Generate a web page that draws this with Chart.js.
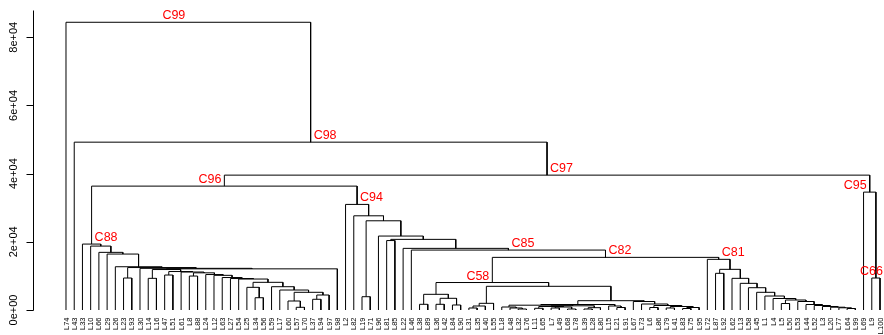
<!DOCTYPE html>
<html>
<head>
<meta charset="utf-8">
<script src="https://cdn.jsdelivr.net/npm/chart.js@4.4.1/dist/chart.umd.min.js"></script>
<style>
  html, body { margin: 0; padding: 0; background: #fff; }
  #wrap { width: 884px; height: 335px; }
</style>
</head>
<body>
<div id="wrap"><canvas id="tree" width="884" height="335"></canvas></div>
<script>
// leaf order along the bottom
const leafLabels = [
  "L74","L43","L33","L10","L66","L29","L26","L23","L93","L30","L14","L16","L47","L51","L61","L8","L88","L24","L12","L63",
  "L27","L54","L25","L34","L56","L59","L17","L60","L57","L70","L37","L94","L97","L98","L2","L82","L19","L71","L96","L81",
  "L85","L22","L46","L38","L89","L36","L42","L84","L90","L31","L35","L40","L55","L18","L48","L32","L76","L11","L65","L7",
  "L49","L68","L78","L39","L28","L80","L15","L21","L91","L67","L73","L6","L86","L79","L41","L83","L75","L95","L72","L87",
  "L92","L62","L13","L58","L45","L1","L4","L5","L50","L53","L44","L52","L3","L20","L77","L64","L99","L69","L9","L100"
]

// merge table: [node, left child, right child, height]
const merges = [
  ["C99","L74","C98",84400],
  ["C98","L43","C97",49230],
  ["C97","C96","C95",39560],
  ["C96","C88","C94",36340],
  ["C95","L69","C66",34580],
  ["C66","L9","L100",9380],
  ["C88","L33","n1",19340],
  ["n1","L10","n2",18750],
  ["n2","L66","n3",16910],
  ["n3","L29","n4",16410],
  ["n4","L26","n5",12690],
  ["n5","n6","n7",12450],
  ["n6","L23","L93",9380],
  ["n7","L30","n8",12220],
  ["n8","n9","L98",12070],
  ["n9","n10","n11",11870],
  ["n10","L14","L16",9290],
  ["n11","n12","n13",11280],
  ["n12","L47","L51",10260],
  ["n13","L61","n14",11140],
  ["n14","n15","n16",10900],
  ["n15","L8","L88",9960],
  ["n16","L24","n17",10400],
  ["n17","L12","n18",10170],
  ["n18","L63","n19",9520],
  ["n19","L27","n20",9230],
  ["n20","L54","n21",9080],
  ["n21","n22","n23",8120],
  ["n22","L25","n24",6650],
  ["n24","L34","L56",3600],
  ["n23","L59","n25",6830],
  ["n25","L17","n26",5860],
  ["n26","n27","n28",5190],
  ["n27","L60","n29",2640],
  ["n29","L57","L70",790],
  ["n28","n30","L97",4400],
  ["n30","L37","L94",3140],
  ["C94","L2","n31",30970],
  ["n31","L82","n32",27630],
  ["n32","n33","n34",26170],
  ["n33","L19","L71",3900],
  ["n34","L96","n35",21690],
  ["n35","n36","n37",20720],
  ["n36","L81","L85",20370],
  ["n37","L22","C85",18080],
  ["C85","L46","C82",17580],
  ["C82","C58","C81",15440],
  ["C58","n38","n39",8060],
  ["n38","n40","n41",4600],
  ["n40","L38","L89",1670],
  ["n41","n42","n43",3430],
  ["n42","L36","L42",1670],
  ["n43","L84","L90",1470],
  ["n39","n44","n45",6950],
  ["n44","n46","L55",1960],
  ["n46","n47","L40",1170],
  ["n47","L31","L35",590],
  ["n45","n48","n49",2730],
  ["n48","n50","n51",1610],
  ["n50","n52","n53",1410],
  ["n52","L18","n54",880],
  ["n54","L48","n55",590],
  ["n55","L32","L76",290],
  ["n53","n56","n57",1230],
  ["n56","n58","n59",1030],
  ["n58","L11","L65",500],
  ["n59","n60","n61",880],
  ["n60","L7","L49",590],
  ["n61","L68","L78",290],
  ["n57","n62","L80",680],
  ["n62","L39","L28",290],
  ["n51","L15","n63",1170],
  ["n63","L21","L91",730],
  ["n49","L67","n64",2490],
  ["n64","L73","n65",1760],
  ["n65","n66","n67",1320],
  ["n66","L6","L86",730],
  ["n67","n68","n69",1030],
  ["n68","L79","L41",590],
  ["n69","n70","L95",730],
  ["n70","L83","L75",440],
  ["C81","L72","n71",14860],
  ["n71","n72","n73",11930],
  ["n72","L87","L92",10760],
  ["n73","L62","n74",9290],
  ["n74","L13","n75",7820],
  ["n75","L58","n76",6540],
  ["n76","L45","n77",5190],
  ["n77","L1","n78",4100],
  ["n78","L4","n79",3370],
  ["n79","n80","n81",2930],
  ["n80","L5","L50",1900],
  ["n81","L53","n82",2490],
  ["n82","L44","n83",1610],
  ["n83","L52","n84",1320],
  ["n84","L3","n85",1030],
  ["n85","L20","n86",820],
  ["n86","L77","n87",650],
  ["n87","L64","L99",440]
]

// cluster names shown in red, and which side of the node they sit on
const labelNames = ["C99","C98","C97","C96","C95","C94","C88","C85","C82","C81","C66","C58"]
const labelSides = ["right","left","left","right","right","left","left","left","left","left","center","right"]

const yTicks = [0, 20000, 40000, 60000, 80000]
const yTop = 88000

const FONT = "'Liberation Sans', Arial, Helvetica, sans-serif"

// look up merges by name
const nodes = {}
merges.forEach(([name, a, b, h]) => { nodes[name] = { a, b, h } })

const xCache = {}
function nodeX(name) {
  if (xCache[name] !== undefined) return xCache[name]
  let x
  if (nodes[name]) x = (nodeX(nodes[name].a) + nodeX(nodes[name].b)) / 2
  else x = leafLabels.indexOf(name) + 1
  xCache[name] = x
  return x
}
function nodeH(name) {
  return nodes[name] ? nodes[name].h : 0
}

// each merge becomes one bracket: down-left, across, down-right
const links = []
merges.forEach(([name, a, b, h]) => {
  const xa = nodeX(a), xb = nodeX(b)
  links.push({ x: xa, y: nodeH(a) }, { x: xa, y: h }, { x: xb, y: h }, { x: xb, y: nodeH(b) })
  links.push({ x: xb, y: null })
})

function expLabel(v) {
  const [m, e] = v.toExponential().split("e")
  return m + "e" + e[0] + e.slice(1).padStart(2, "0")
}

// R-style left axis, leaf names and the red cluster names
const extrasPlugin = {
  id: "extras",
  afterDraw(chart) {
    const { ctx } = chart
    const xs = chart.scales.x
    const ys = chart.scales.y
    const ax = 33.5
    const base = ys.getPixelForValue(0)

    ctx.save()
    ctx.strokeStyle = "#000"
    ctx.lineWidth = 1
    ctx.beginPath()
    ctx.moveTo(ax, Math.round(base) + 0.5)
    ctx.lineTo(ax, Math.round(ys.getPixelForValue(yTop)) + 0.5)
    yTicks.forEach((v) => {
      const py = Math.round(ys.getPixelForValue(v)) + 0.5
      ctx.moveTo(ax - 7, py)
      ctx.lineTo(ax, py)
    })
    ctx.stroke()

    ctx.fillStyle = "#000"
    ctx.font = "11px " + FONT
    ctx.textAlign = "center"
    ctx.textBaseline = "alphabetic"
    yTicks.forEach((v) => {
      ctx.save()
      ctx.translate(17, ys.getPixelForValue(v))
      ctx.rotate(-Math.PI / 2)
      ctx.fillText(expLabel(v), 0, 0)
      ctx.restore()
    })

    // leaf names, vertical, hanging below the baseline
    ctx.font = "7.5px " + FONT
    ctx.textAlign = "right"
    ctx.textBaseline = "middle"
    leafLabels.forEach((name, i) => {
      ctx.save()
      ctx.translate(xs.getPixelForValue(i + 1) + 0.5, base + 7.5)
      ctx.rotate(-Math.PI / 2)
      ctx.fillText(name, 0, 0)
      ctx.restore()
    })

    ctx.fillStyle = "#ff0000"
    ctx.font = "12.5px " + FONT
    ctx.textBaseline = "alphabetic"
    labelNames.forEach((name, i) => {
      const px = xs.getPixelForValue(nodeX(name))
      const py = ys.getPixelForValue(nodeH(name)) - 3
      const side = labelSides[i]
      if (side === "right") {
        ctx.textAlign = "right"
        ctx.fillText(name, px - 3, py)
      } else if (side === "left") {
        ctx.textAlign = "left"
        ctx.fillText(name, px + 3, py)
      } else {
        const w = ctx.measureText(name).width
        ctx.textAlign = "center"
        ctx.fillText(name, Math.min(px, chart.width - w / 2 - 1), py)
      }
    })
    ctx.restore()
  }
}

new Chart(document.getElementById("tree"), {
  type: "line",
  data: {
    datasets: [{
      data: links,
      borderColor: "#000",
      borderWidth: 1,
      pointRadius: 0,
      pointHoverRadius: 0,
      tension: 0,
      spanGaps: false,
      fill: false
    }]
  },
  options: {
    responsive: false,
    animation: false,
    devicePixelRatio: 1,
    events: [],
    layout: { padding: { top: 10, left: 40, right: 0, bottom: 25 } },
    plugins: {
      legend: { display: false },
      tooltip: { enabled: false }
    },
    scales: {
      x: {
        type: "linear",
        display: false,
        min: -2.162,
        max: 100.486
      },
      y: {
        display: false,
        min: 0,
        max: yTop
      }
    }
  },
  plugins: [extrasPlugin]
})
</script>
</body>
</html>
